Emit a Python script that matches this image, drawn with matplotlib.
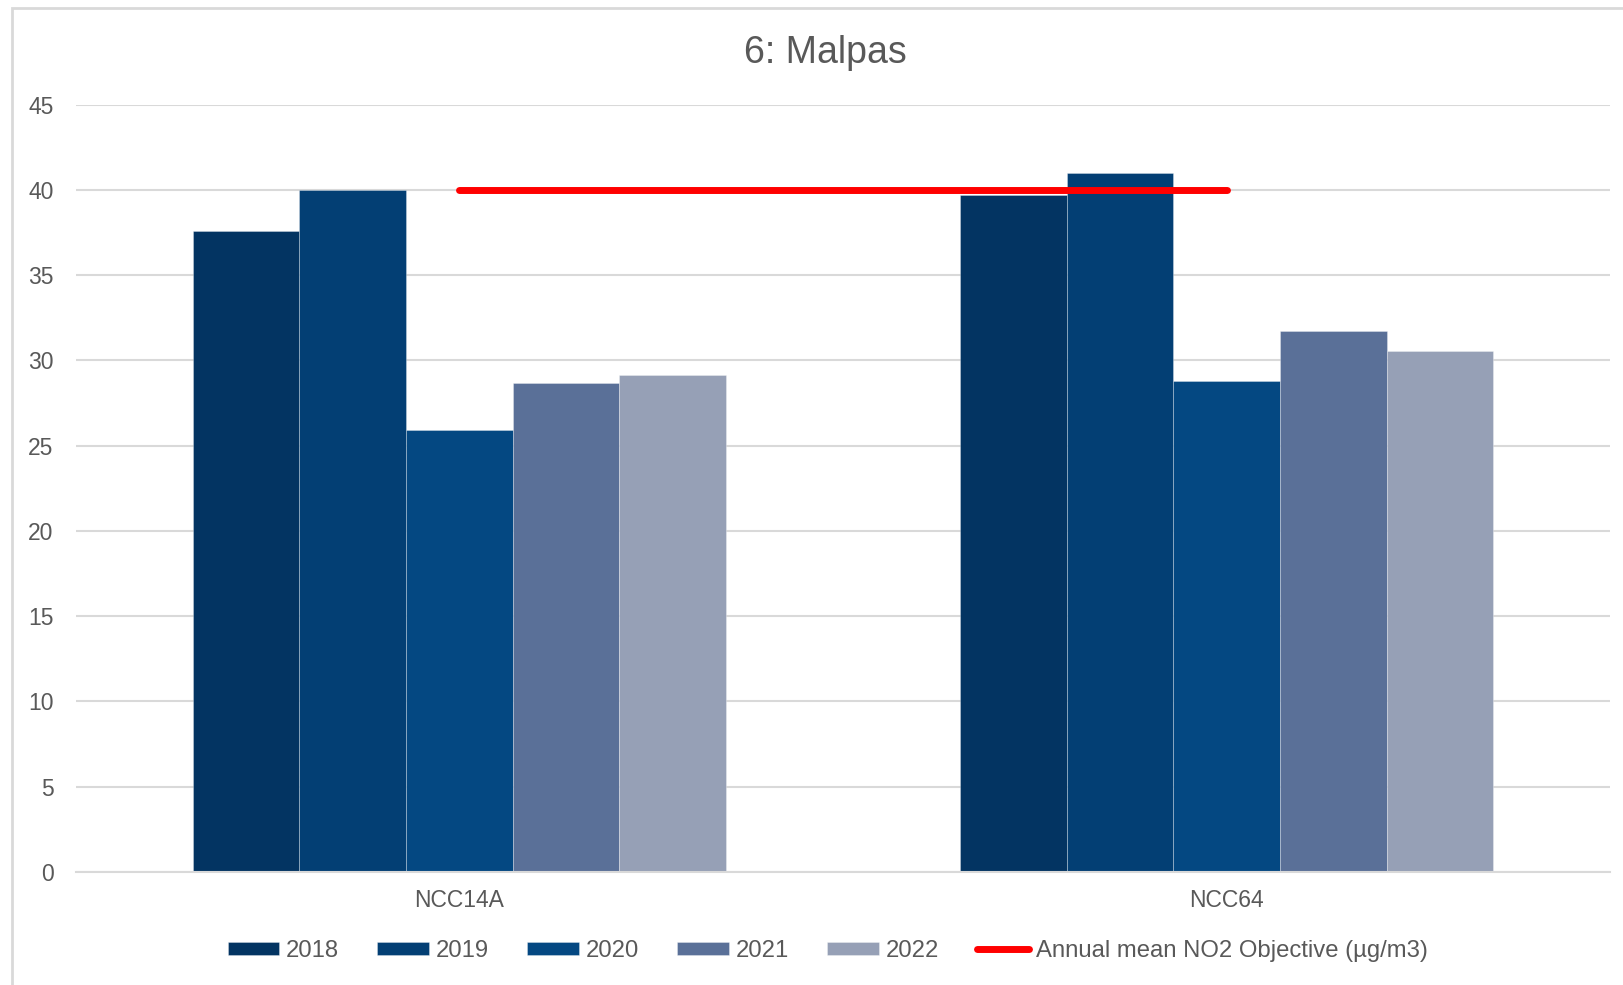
import numpy as np
import matplotlib.pyplot as plt
from matplotlib.patches import Rectangle

plt.rcParams['font.family'] = ['Liberation Sans', 'DejaVu Sans']

# data
sites = ['NCC14A', 'NCC64']
years = ['2018', '2019', '2020', '2021', '2022']
values = {
    '2018': [37.6, 39.7],
    '2019': [40.0, 41.0],
    '2020': [25.9, 28.8],
    '2021': [28.65, 31.75],
    '2022': [29.15, 30.55],
}
objective = [40, 40]
objective_label = 'Annual mean NO2 Objective (µg/m3)'
colors = ['#033462', '#033F74', '#044882', '#5A7098', '#96A0B6']

fig = plt.figure(figsize=(16.24, 9.85), dpi=100)
ax = fig.add_axes([0.0466, 0.1147, 0.945, 0.7791])

# outer chart border
fig.patches.append(Rectangle((12 / 1624, -0.1), 1.2, 1 - 8 / 985 + 0.1,
                             transform=fig.transFigure, fill=False,
                             edgecolor='#D9D9D9', linewidth=2))

x = np.arange(len(sites))
w = 0.139
handles = []
for i, yr in enumerate(years):
    b = ax.bar(x + (i - 2) * w, values[yr], width=w, color=colors[i],
               edgecolor=(1, 1, 1, 0.35), linewidth=0.6, label=yr, zorder=2)
    handles.append(b)

line, = ax.plot(x, objective, color='#FF0000', linewidth=5,
                solid_capstyle='round', label=objective_label, zorder=3)
handles.append(line)

ax.set_xlim(-0.5, 1.5)
ax.set_ylim(0, 45)
ax.set_yticks(range(0, 50, 5))
ax.set_xticks(x)
ax.set_xticklabels(sites)
ax.grid(axis='y', color='#D9D9D9', linewidth=1.5, zorder=0)
ax.set_axisbelow(True)
for s in ['top', 'right', 'left']:
    ax.spines[s].set_visible(False)
ax.spines['bottom'].set_color('#D9D9D9')
ax.spines['bottom'].set_linewidth(1.5)
ax.tick_params(axis='both', length=0, labelsize=16.5, labelcolor='#595959')
ax.tick_params(axis='y', pad=16)
ax.tick_params(axis='x', pad=12)

fig.text(0.508, 0.946, '6: Malpas', ha='center', va='center',
         fontsize=27, color='#595959')

leg = ax.legend(handles=handles, loc='center', bbox_to_anchor=(0.49, -0.103),
                ncol=6, frameon=False, fontsize=17.2, handlelength=2.15,
                handleheight=0.5, handletextpad=0.3, columnspacing=1.6)
for t in leg.get_texts():
    t.set_color('#595959')

fig.savefig('out.png', dpi=100)
